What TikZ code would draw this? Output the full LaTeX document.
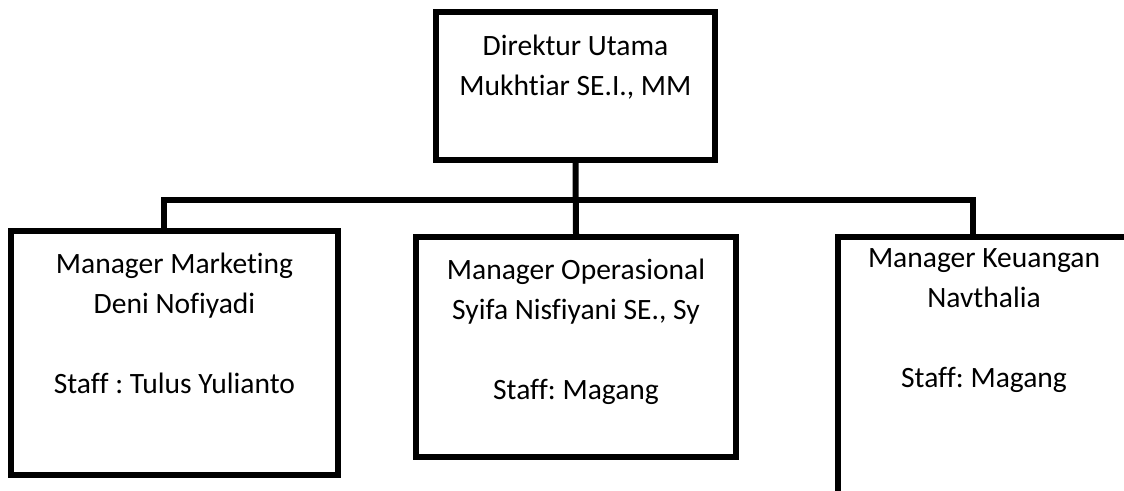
\documentclass[tikz,border=0pt]{standalone}
\usepackage{fontspec}
\setmainfont{Carlito}[Ligatures=NoCommon]
\usetikzlibrary{positioning}
\frenchspacing

\begin{document}
\begin{tikzpicture}[line width=0.12cm, line join=miter,
                    box/.style={rectangle,draw,inner sep=0pt},
                    boxtext/.style={align=center,inner sep=0pt,anchor=north,
                      font=\fontsize{16.8pt}{22.8pt}\selectfont}]

  \useasboundingbox (0,0) rectangle (22.48,-9.8);
  \clip (0,0) rectangle (22.48,-9.8);

  \node[box, minimum width=5.58cm, minimum height=2.96cm] (dir) at (11.51,-1.72) {};
  \node[box, minimum width=6.54cm, minimum height=4.88cm] (mkt) at (3.49,-7.06) {};
  \node[box, minimum width=6.40cm, minimum height=4.40cm] (ops) at (11.52,-6.94) {};
  \node[box, minimum width=5.84cm, minimum height=5.66cm] (keu) at (19.68,-7.57) {};

  \node[boxtext] (dirtext) [below=0.45cm of dir.north] {Direktur Utama\\Mukhtiar SE.I., MM};
  \node[boxtext] (mkttext) [below=0.43cm of mkt.north] {Manager Marketing\\Deni Nofiyadi\\~\\Staff : Tulus Yulianto};
  \node[boxtext] (opstext) [below=0.43cm of ops.north] {Manager Operasional\\Syifa Nisfiyani SE., Sy\\~\\Staff: Magang};
  \node[boxtext] (keutext) [below=0.23cm of keu.north] {Manager Keuangan\\Navthalia\\~\\Staff: Magang};

  % garis penghubung
  \coordinate (busL) at (3.28,-4.0);
  \coordinate (busR) at (19.46,-4.0);
  \draw (dir.south) -- (ops.north);
  \draw (mkt.north -| busL) -- (busL) -- (busR) -- (busR |- keu.north);
\end{tikzpicture}
\end{document}
